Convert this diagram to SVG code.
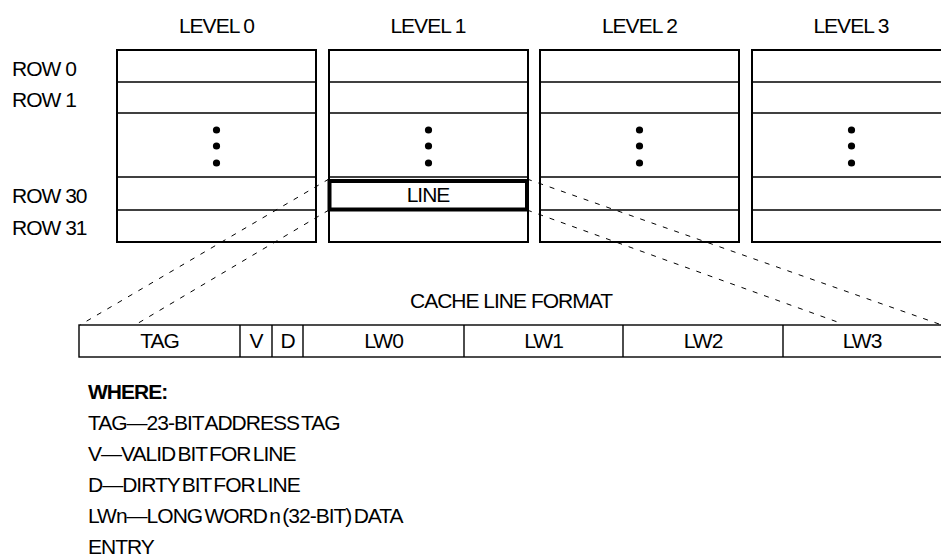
<svg xmlns="http://www.w3.org/2000/svg" width="941" height="559" viewBox="0 0 941 559">
  <style>
    text { font-family: "Liberation Sans", Arial, sans-serif; font-size: 21px; letter-spacing: -1px; fill: #000; }
    .mid { text-anchor: middle; }
    .tight { word-spacing: -2.5px; }
    .box { fill: #fff; stroke: #000; stroke-width: 2; }
    .row { stroke: #000; stroke-width: 1.4; }
    .cell { fill: none; stroke: #000; stroke-width: 1.4; }
    .dash { stroke: #000; stroke-width: 1; stroke-dasharray: 5 7; fill: none; }
    .bold { font-weight: bold; }
  </style>
  <defs>
    <!-- one cache level: 32 rows, rows 2..29 elided -->
    <g id="level">
      <rect class="box" x="0" y="50" width="199" height="192"/>
      <line class="row" x1="0" y1="82" x2="199" y2="82"/>
      <line class="row" x1="0" y1="113" x2="199" y2="113"/>
      <line class="row" x1="0" y1="177" x2="199" y2="177"/>
      <line class="row" x1="0" y1="210" x2="199" y2="210"/>
      <circle cx="99.5" cy="130" r="3.6"/>
      <circle cx="99.5" cy="146" r="3.6"/>
      <circle cx="99.5" cy="163" r="3.6"/>
    </g>
  </defs>

  <rect width="941" height="559" fill="#fff"/>

  <!-- level headings -->
  <g id="headings">
    <text class="mid" x="216.5" y="33">LEVEL 0</text>
    <text class="mid" x="428" y="33">LEVEL 1</text>
    <text class="mid" x="639.5" y="33">LEVEL 2</text>
    <text class="mid" x="851" y="33">LEVEL 3</text>
  </g>

  <!-- row labels -->
  <g id="rows">
    <text x="12" y="76">ROW 0</text>
    <text x="12" y="107">ROW 1</text>
    <text x="12" y="203">ROW 30</text>
    <text x="12" y="235">ROW 31</text>
  </g>

  <g id="level0"><use href="#level" x="117"/></g>
  <g id="level1"><use href="#level" x="329"/></g>
  <g id="level2"><use href="#level" x="540"/></g>
  <g id="level3"><use href="#level" x="752"/></g>

  <!-- projection of the selected line onto its format -->
  <g id="connectors">
    <line class="dash" x1="329" y1="179" x2="80" y2="325"/>
    <line class="dash" x1="329" y1="210" x2="135" y2="325"/>
    <line class="dash" x1="527" y1="179" x2="939" y2="324"/>
    <line class="dash" x1="527" y1="210" x2="843" y2="324"/>
  </g>

  <!-- highlighted cache line -->
  <g id="line">
    <rect x="329.5" y="181" width="197.5" height="28.5" fill="#fff" stroke="#000" stroke-width="4"/>
    <text class="mid" x="428" y="202">LINE</text>
  </g>

  <!-- cache line format -->
  <g id="format">
    <text class="mid" x="511" y="308">CACHE LINE FORMAT</text>
    <rect class="cell" x="79" y="325" width="870" height="32"/>
    <line class="row" x1="240" y1="325" x2="240" y2="357"/>
    <line class="row" x1="272" y1="325" x2="272" y2="357"/>
    <line class="row" x1="303" y1="325" x2="303" y2="357"/>
    <line class="row" x1="464" y1="325" x2="464" y2="357"/>
    <line class="row" x1="623" y1="325" x2="623" y2="357"/>
    <line class="row" x1="783" y1="325" x2="783" y2="357"/>
    <text class="mid" x="159.5" y="348">TAG</text>
    <text class="mid" x="256" y="348">V</text>
    <text class="mid" x="287.5" y="348">D</text>
    <text class="mid" x="383.5" y="348">LW0</text>
    <text class="mid" x="543.5" y="348">LW1</text>
    <text class="mid" x="703" y="348">LW2</text>
    <text class="mid" x="862" y="348">LW3</text>
  </g>

  <!-- legend -->
  <g id="legend">
    <text class="bold" x="88" y="399">WHERE:</text>
    <text class="tight" x="88" y="430">TAG—23-BIT ADDRESS TAG</text>
    <text class="tight" x="88" y="461">V—VALID BIT FOR LINE</text>
    <text class="tight" x="88" y="492">D—DIRTY BIT FOR LINE</text>
    <text class="tight" x="88" y="523">LWn—LONG WORD n (32-BIT) DATA</text>
    <text class="tight" x="88" y="554">ENTRY</text>
  </g>
</svg>
